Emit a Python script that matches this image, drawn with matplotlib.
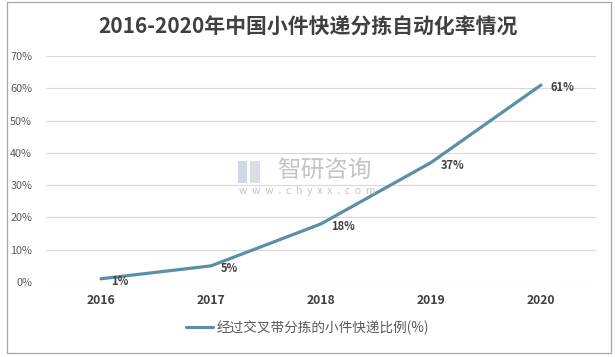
import matplotlib
matplotlib.use("Agg")
import matplotlib.pyplot as plt
from matplotlib.patches import Rectangle

plt.rcParams['font.family'] = ['Noto Sans CJK SC', 'DejaVu Sans']

TITLE = '2016-2020年中国小件快递分拣自动化率情况'
SERIES_NAME = '经过交叉带分拣的小件快递比例(%)'
years = ['2016', '2017', '2018', '2019', '2020']
rates = [1, 5, 18, 37, 61]
y_ticks = [0, 10, 20, 30, 40, 50, 60, 70]

LINE_COLOR = '#5A8FA4'
GRID_COLOR = '#D9D9D9'
TEXT_COLOR = '#595959'

fig = plt.figure(figsize=(6.15, 3.57), dpi=100)
ax = fig.add_axes([46 / 615, 1 - 282 / 357, 550 / 615, 226 / 357])

x = list(range(len(years)))
ax.plot(x, rates, color=LINE_COLOR, lw=2.3, solid_capstyle='round', zorder=3,
        label=SERIES_NAME)
for xi, v in zip(x, rates):
    ax.annotate(f'{v}%', (xi, v), xytext=(7, -2), textcoords='offset points',
                ha='left', va='center', fontsize=8, fontweight='bold',
                color='#404040')

ax.set_xlim(-0.5, len(years) - 0.5)
ax.set_ylim(0, 70)
ax.set_yticks(y_ticks)
ax.set_yticklabels([f'{t}%' for t in y_ticks], fontsize=7.8, color=TEXT_COLOR)
ax.set_xticks(x)
ax.set_xticklabels(years, fontsize=8.8, fontweight='bold', color='#404040')
ax.tick_params(length=0, pad=9)
ax.tick_params(axis='y', pad=10)
ax.grid(axis='y', color=GRID_COLOR, lw=0.8)
ax.set_axisbelow(True)
for s in ax.spines.values():
    s.set_visible(False)

fig.text(0.5, 1 - 27 / 357, TITLE, ha='center', va='center', fontsize=15,
         fontweight='bold', color='#404040')

# watermark
fig.text(324 / 615, 1 - 171 / 357, '智研咨询', ha='center', va='center',
         fontsize=17, color='#C4C4C4', zorder=5)
fig.text(307 / 615, 1 - 191 / 357, 'w  w  w  .  c  h  y  x  x  .  c  o  m',
         ha='center', va='center', fontsize=7.5, color='#C4C4C4', zorder=5)
fig.patches.append(Rectangle((238 / 615, 1 - 183 / 357), 9 / 615, 22 / 357,
                             transform=fig.transFigure, facecolor='#CFD8E6',
                             edgecolor='none', zorder=4))
fig.patches.append(Rectangle((250 / 615, 1 - 183 / 357), 10 / 615, 22 / 357,
                             transform=fig.transFigure, facecolor='#D9DEE6',
                             edgecolor='none', zorder=4))

leg = fig.legend(loc='center', bbox_to_anchor=(0.5, 1 - 327 / 357), frameon=False,
                 fontsize=9.8, handlelength=2.0, handletextpad=0.3)
for t in leg.get_texts():
    t.set_color(TEXT_COLOR)

fig.patches.append(Rectangle((7 / 615, 4 / 357), 604 / 615, 351 / 357,
                             transform=fig.transFigure, facecolor='none',
                             edgecolor='#A6A6A6', lw=0.9))

fig.savefig('out.png', dpi=100)
